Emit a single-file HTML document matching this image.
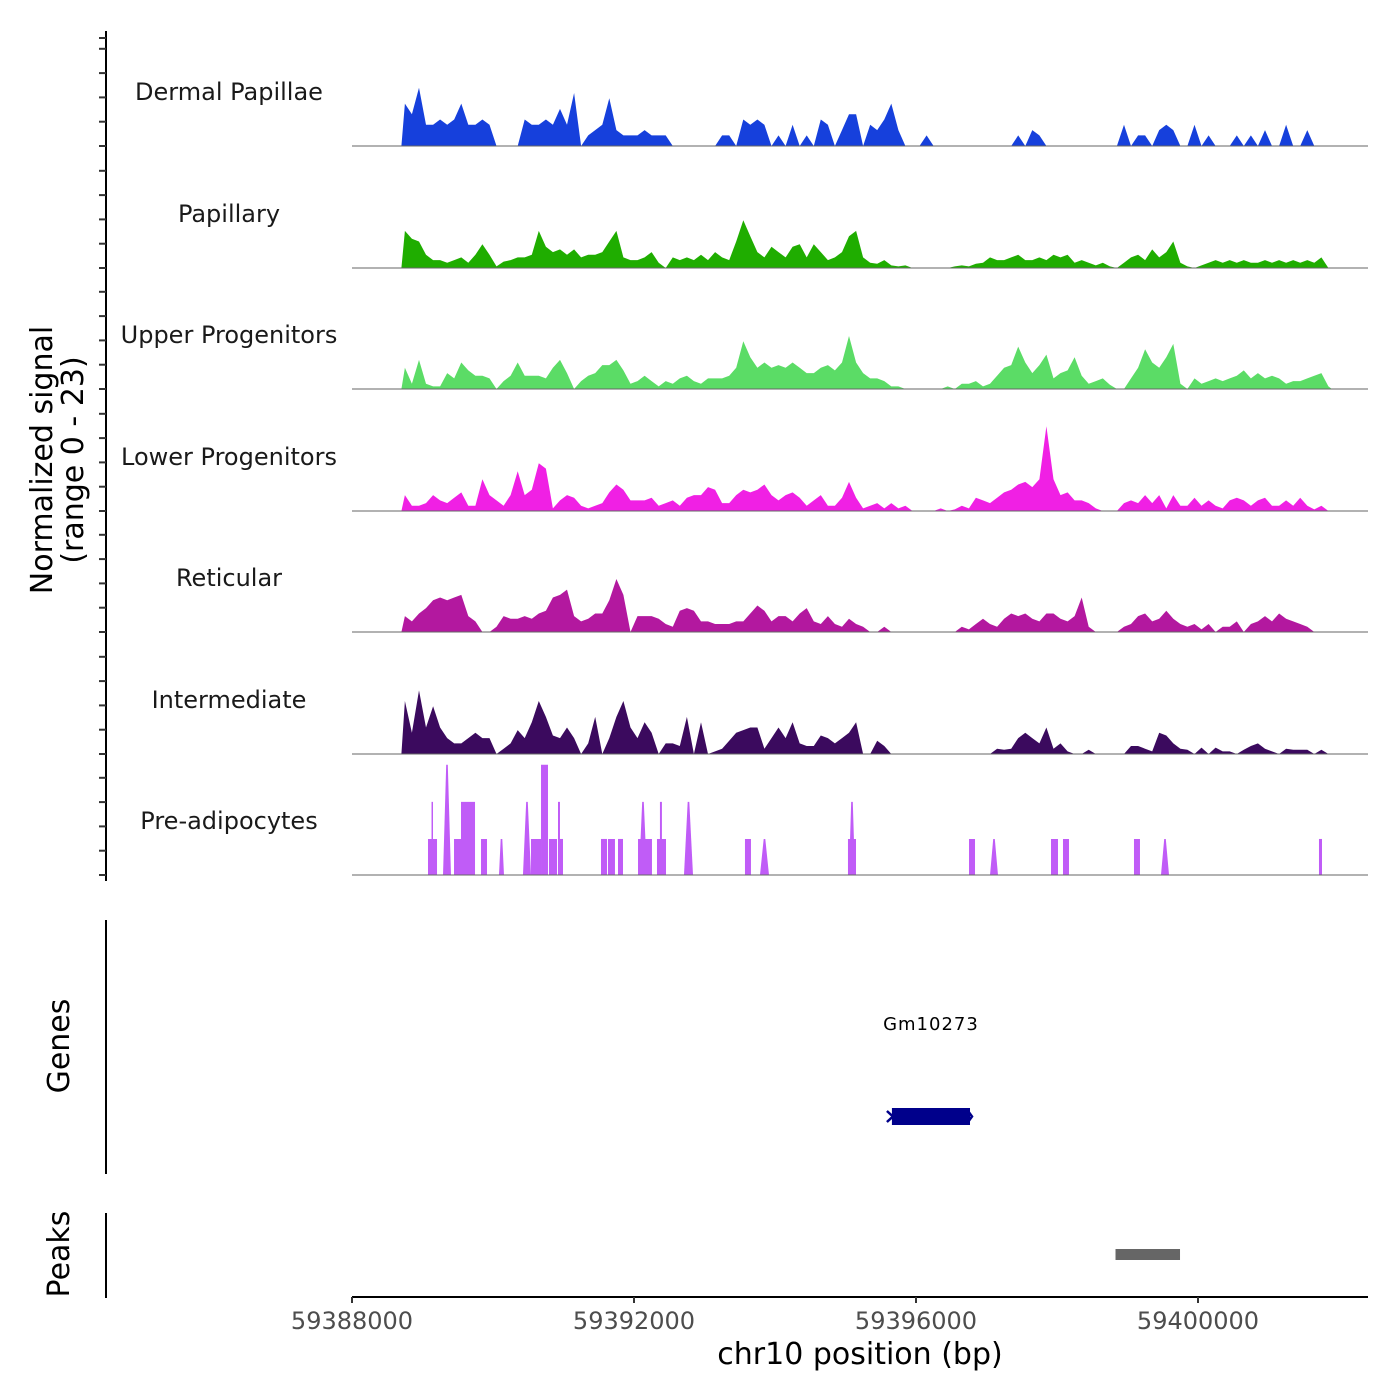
<!DOCTYPE html>
<html><head><meta charset="utf-8"><style>
body{margin:0;background:#fff}
svg{display:block;font-family:"DejaVu Sans","Liberation Sans",sans-serif}
</style></head><body>
<svg id="chart" width="1400" height="1400" viewBox="0 0 1400 1400" xmlns="http://www.w3.org/2000/svg"></svg>
<script>
const trackNames=["Dermal Papillae","Papillary","Upper Progenitors","Lower Progenitors","Reticular","Intermediate","Pre-adipocytes"];
const trackColors=["#1640dc","#1fad00","#5bdc66","#f020e4","#b3189f","#3b0a5e","#c05cf7"];
const binStart=59388700;
const binSize=100;
const dermal=[8,6,11,4,4,5,4,5,8,4,4,5,4,0,0,0,0,5,4,4,5,4,7,4,10,0,2,3,4,9,3,2,2,2,3,2,2,2,0,0,0,0,0,0,0,2,2,0,5,4,5,4,0,2,0,4,0,2,0,5,4,0,3,6,6,0,4,3,5,8,3,0,0,0,2,0,0,0,0,0,0,0,0,0,0,0,0,2,0,3,2,0,0,0,0,0,0,0,0,0,0,0,4,0,2,2,0,3,4,3,0,0,4,0,2,0,0,0,2,0,2,0,3,0,0,4,0,0,3,0,0,0];
const papillary=[7,5.5,5,2.5,1.5,1.5,1,1.5,2,1,2.5,4.5,2.5,0.3,1.2,1.5,2,2,2.5,7,4,3,3.5,2.5,3.5,2,2.5,2.5,3,5,7,2,1.5,1.5,2,3,1,0,2,1.5,2,1.5,2.5,1.5,3,2,1.5,5,9,6,3,2,4,3,2,4,4.5,2,4.5,3,1.5,2,3,6,7,2,1,0.8,1.5,0.5,0.3,0.5,0,0,0,0,0,0,0.3,0.5,0.3,0.8,1,2,1.5,1.5,2,2.5,1.5,1.5,2,1.5,2.5,2,2.5,1,1.5,1,0.5,1,0.3,0,1,2,2.5,1.5,3.5,2,3,5,1,0.3,0,0.5,1,1.5,1,1.5,1,1.5,1,1,1.5,1,1.5,1,1.5,1,1.5,1,2,0];
const upper=[4,1,5.5,1,0.5,0.5,3,2,5,3.5,2.5,2.5,2,0,1.5,2.5,5,2.5,2.5,2.5,2,4,5.5,3,0,1.5,2.5,3,4.5,4.5,5.5,3.5,1,1.5,2.5,1.5,0.5,1.5,1,2,2.5,1.5,1,2,2,2,2.5,4,9,6,4,5,4,4.5,4,5,4,3,3,4,4.5,3.5,5,10,5,3,2,2,1.5,0.5,0.5,0,0,0,0,0,0,0.5,0,1,1,1.5,0.5,1,2.5,4,4.5,8,5,3,4.5,6.5,2,3,3.5,6,2.5,1,1.5,2,0.8,0,0,2,4,7.5,5,4,6,8.5,1,0,2,1,1.5,2,1.5,2,2.5,3.5,2,3,2,2.5,2,1,1.5,1.5,2,2.5,3,0.5];
const lower=[3,1,1,1.5,3,2,1.5,2.5,3.5,1,1,6,3,2,1,3,7.5,3,4,9,8,0.5,2,3,2.5,1,0.5,1,1.5,3.5,5,4,2,2,2,2.5,1,1.5,2,1,2.5,3,3,4.5,4,1.5,1.5,3,4,3.5,4,5,3,2,3,3.5,2.5,1,2,3,1,1,2.5,5.5,2.5,0.5,1,1.5,0.5,1.5,0.5,1,0,0,0,0,0.5,0,0.3,1,0.5,2.5,2,1.5,2.5,3.5,4,5,5.5,4.5,6,16,6,3,3.5,2,2,1.5,0.5,0,0,0,1.5,2,1.5,3,1.5,3,0.5,3,1,1,2.5,1,2,1,0.5,2,2.5,2,1,2,2.5,1,1,2,1,2.5,1,0.3,1,0];
const reticular=[3,2,3.5,4.5,6,6.5,6,6.5,7,3,2,0,0,1,3,2.5,2.5,3,2.5,3.5,4,6.5,7,8,3,2,2.5,3.5,3.5,6,10,7,0,3,3,3,2.5,1.5,1,4,4.5,4,2,2,1.5,1.5,1.5,2,2,3.5,5,4,2,3,3,2,3.5,4.5,2,1.5,3,1.5,1,2.5,1.5,1,0,0,1,0,0,0,0,0,0,0,0,0,0,1,0.5,1.5,2.5,1.5,1,2.5,3.5,3,3.5,2.5,2,3.5,3.5,2.5,2,3,6.5,1,0,0,0,0,1,1.5,3,3.5,2,2.5,4,2.5,1.5,1,1.5,0.5,1.5,0,1,1,2,0,1.5,2,3,2,3.5,2.5,2,1.5,1,0,0,0];
const intermediate=[10,4,12,5,9,5,3,2,2,3,4,3,3,0,1,2,4.5,3,6,10,7,3.5,3,5,3,0,2,7,0,3,7,10,5,3,6,4,0,2,2,1.5,7,0,6,0,0.5,1,2.5,4,4.5,5,5,1,3,5,3,6,2,1.5,1.5,3.5,3,2,3,4,6,0,0,2.5,1.5,0,0,0,0,0,0,0,0,0,0,0,0,0,0,0,1,0.8,1,3,4,3,2,5,1,2,0.5,0,0,0.8,0,0,0,0,0,1.5,1.5,1,0.5,4,3.5,2,1,0.8,0,1.2,0,1.2,0.5,0.5,0,0.8,1.5,2,1,0.5,0,1,0.8,0.8,0.8,0,0.8,0];
const preStart=[59389078,59389128,59389291,59389447,59389546,59389830,59390085,59390425,59390539,59390681,59390794,59390922,59390950,59391532,59391631,59391773,59392057,59392071,59392326,59392368,59392709,59393574,59393787,59395035,59395049,59396752,59397050,59397915,59398085,59399092,59399475,59401716];
const preEnd=[59389206,59389149,59389404,59389546,59389745,59389915,59390156,59390539,59390681,59390780,59390908,59390950,59390993,59391617,59391730,59391844,59392255,59392184,59392454,59392396,59392837,59393659,59393915,59395149,59395135,59396837,59397163,59398014,59398170,59399177,59399589,59401759];
const preVal=[6.8,13.8,20.8,6.8,13.8,6.8,6.8,13.8,6.8,20.8,6.8,13.8,6.8,6.8,6.8,6.8,6.8,13.8,6.8,13.8,13.8,6.8,6.8,6.8,13.8,6.8,6.8,6.8,6.8,6.8,6.8,6.8];
const preShape=["r","r","t","r","r","r","t","t","r","r","r","r","r","r","r","r","r","t","r","r","t","r","t","r","t","r","t","r","r","r","t","r"];
const xTicks=[59388000,59392000,59396000,59400000];
const geneName="Gm10273";
const geneStart=59395545;
const geneEnd=59396766;
const peakStart=59398830;
const peakEnd=59399745;

const NS="http://www.w3.org/2000/svg";
const svg=document.getElementById("chart");
const X0=352,X1=1368,BP0=59388000,PXPERBP=282/4000;
function xs(bp){return X0+(bp-BP0)*PXPERBP;}
const baselines=[146,268,389,511,632,754,875];
const PXPERUNIT=5.3;
function ys(track,v){return baselines[track]-v*PXPERUNIT;}
function mk(tag,attrs,parent){const e=document.createElementNS(NS,tag);for(const k in attrs)e.setAttribute(k,attrs[k]);(parent||svg).appendChild(e);return e;}
function txt(s,attrs,parent){const e=mk("text",attrs,parent);e.textContent=s;return e;}

const axG=mk("g",{});


mk("line",{x1:106,y1:31,x2:106,y2:881,stroke:"#000","stroke-width":2},axG);
for(let t=0;t<7;t++){for(let k=0;k<5;k++){const y=baselines[t]-k*24.3;const tk=mk("line",{x1:99,y1:y,x2:106,y2:y,stroke:"#333","stroke-width":2},axG);}}
{const tk=mk("line",{x1:99,y1:38,x2:106,y2:38,stroke:"#333","stroke-width":2},axG);}
const yt=txt("",{transform:"translate(52,460) rotate(-90)","text-anchor":"middle","font-size":"30",fill:"#000"});


mk("tspan",{x:0,dy:0},yt).textContent="Normalized signal";
mk("tspan",{x:0,dy:31},yt).textContent="(range 0 - 23)";

const binned=[dermal,papillary,upper,lower,reticular,intermediate];
for(let t=0;t<7;t++){
  const g=mk("g",{});
  
  
  const lb=txt(trackNames[t],{x:229,y:baselines[t]-46,"text-anchor":"middle","font-size":"24",fill:"#1a1a1a"},g);
  
  
  if(t<6){
    const arr=binned[t];
    let d="M"+xs(binStart).toFixed(1)+","+baselines[t];
    for(let i=0;i<arr.length;i++){d+=" L"+xs(binStart+i*binSize+binSize/2).toFixed(1)+","+ys(t,arr[i]).toFixed(1);}
    d+=" L"+xs(binStart+arr.length*binSize).toFixed(1)+","+baselines[t]+" Z";
    const p=mk("path",{d:d,fill:trackColors[t]},g);
    
    
  } else {
    for(let i=0;i<preStart.length;i++){
      const a=xs(preStart[i]),b=xs(preEnd[i]),y=ys(t,preVal[i]),yb=baselines[t];
      let d;
      if(preShape[i]==="t"){const m=(a+b)/2;d=`M${a},${yb} L${m-0.8},${y} L${m+0.8},${y} L${b},${yb} Z`;}
      else d=`M${a},${yb} L${a},${y} L${b},${y} L${b},${yb} Z`;
      const p=mk("path",{d:d,fill:trackColors[t]},g);
      
      
    }
  }
  const bl=mk("line",{x1:X0,y1:baselines[t],x2:X1,y2:baselines[t],stroke:"#666","stroke-width":1},g);
  
  
}

const gg=mk("g",{});


mk("line",{x1:106,y1:920,x2:106,y2:1174,stroke:"#000","stroke-width":2},gg);
const gt=txt("Genes",{transform:"translate(69,1046) rotate(-90)","text-anchor":"middle","font-size":"30",fill:"#000"},gg);


const gl=txt(geneName,{x:(xs(geneStart)+xs(geneEnd))/2+4,y:1030,"text-anchor":"middle","font-size":"18",fill:"#000","letter-spacing":"1"},gg);


const gr=mk("rect",{x:xs(geneStart)+8,y:1108,width:xs(geneEnd)-xs(geneStart)-8,height:17,fill:"#00008b"},gg);


mk("path",{d:`M${xs(geneStart)+3},1111 L${xs(geneStart)+9},1116.5 L${xs(geneStart)+3},1122`,stroke:"#00008b","stroke-width":2.5,fill:"none"},gg);
mk("path",{d:`M${xs(geneEnd)-2},1111 L${xs(geneEnd)+2},1116.5 L${xs(geneEnd)-2},1122`,stroke:"#00008b","stroke-width":2.5,fill:"none"},gg);

const pg=mk("g",{});


mk("line",{x1:106,y1:1213,x2:106,y2:1298,stroke:"#000","stroke-width":2},pg);
const pt=txt("Peaks",{transform:"translate(69,1254) rotate(-90)","text-anchor":"middle","font-size":"30",fill:"#000"},pg);


const pr=mk("rect",{x:xs(peakStart),y:1249,width:xs(peakEnd)-xs(peakStart),height:11,fill:"#666"},pg);



const xg=mk("g",{});


mk("line",{x1:X0,y1:1297,x2:X1,y2:1297,stroke:"#000","stroke-width":2},xg);
for(const t of xTicks){
  const x=xs(t);
  mk("line",{x1:x,y1:1297,x2:x,y2:1303,stroke:"#333","stroke-width":2},xg);
  const tl=txt(String(t),{x:x,y:1329,"text-anchor":"middle","font-size":"24",fill:"#4d4d4d"},xg);
  
  
}
const xt=txt("chr10 position (bp)",{x:860,y:1364,"text-anchor":"middle","font-size":"30",fill:"#000"},xg);


</script>
</body></html>
